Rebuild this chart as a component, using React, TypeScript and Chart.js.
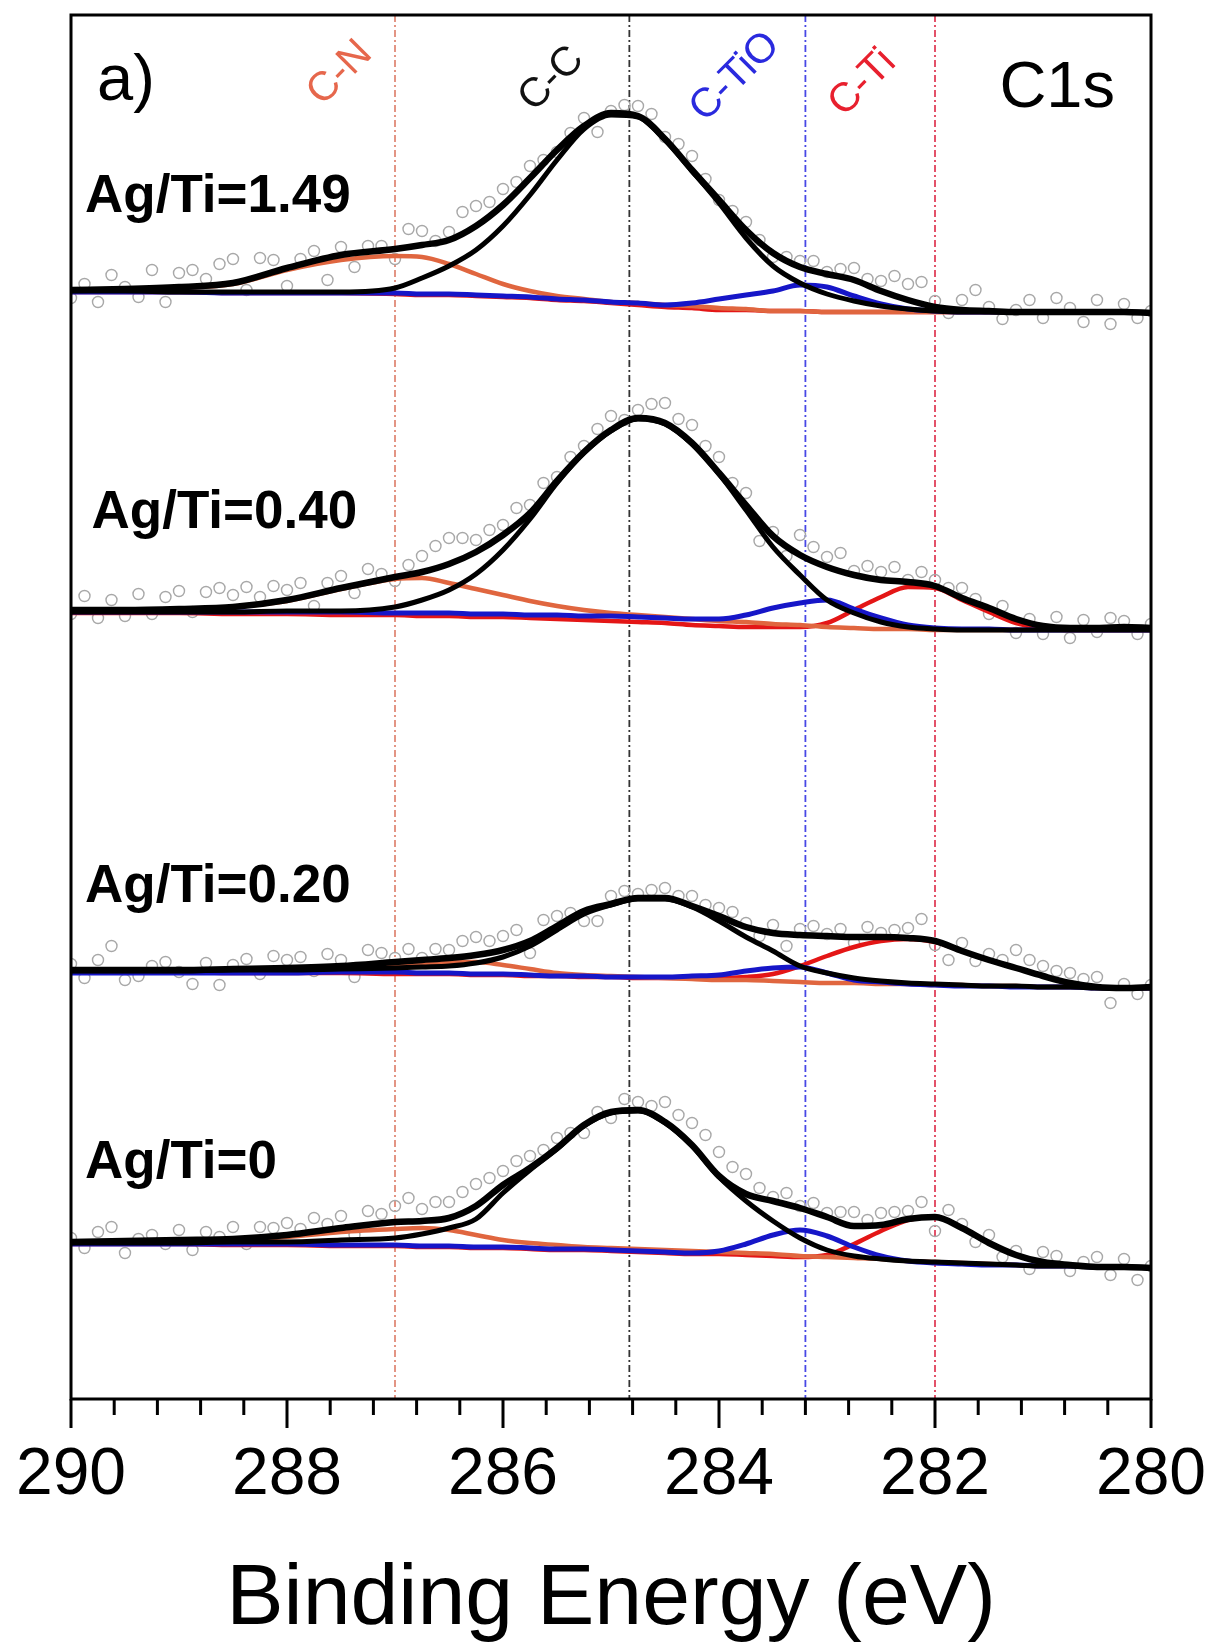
import React, { useEffect, useRef } from 'react';
import { Chart, registerables } from 'chart.js';

Chart.register(...registerables);

const FONT = "'Liberation Sans', Arial, Helvetica, sans-serif";

// Binding energies (eV) at which the fitted curves are sampled
const FIT_E = [290, 289.5, 289, 288.5, 288, 287.5, 287, 286.75, 286.5, 286.25, 286, 285.75, 285.5, 285.25, 285, 284.75, 284.5, 284.25, 284, 283.75, 283.5, 283.25, 283, 282.75, 282.5, 282.25, 282, 281.75, 281.5, 281.25, 281, 280.75, 280.5, 280.25, 280];

// Binding energies (eV) of the measured points
const RAW_E = [290, 289.875, 289.75, 289.625, 289.5, 289.375, 289.25, 289.125, 289, 288.875, 288.75, 288.625, 288.5, 288.375, 288.25, 288.125, 288, 287.875, 287.75, 287.625, 287.5, 287.375, 287.25, 287.125, 287, 286.875, 286.75, 286.625, 286.5, 286.375, 286.25, 286.125, 286, 285.875, 285.75, 285.625, 285.5, 285.375, 285.25, 285.125, 285, 284.875, 284.75, 284.625, 284.5, 284.375, 284.25, 284.125, 284, 283.875, 283.75, 283.625, 283.5, 283.375, 283.25, 283.125, 283, 282.875, 282.75, 282.625, 282.5, 282.375, 282.25, 282.125, 282, 281.875, 281.75, 281.625, 281.5, 281.375, 281.25, 281.125, 281, 280.875, 280.75, 280.625, 280.5, 280.375, 280.25, 280.125, 280];

// ---- Ag/Ti = 1.49 (intensity, a.u., stacked offset) ----
const ENV_149 = [1109, 1110, 1112, 1116, 1131, 1144, 1150, 1154, 1159, 1173, 1194, 1221, 1249, 1273, 1286, 1283, 1260, 1229, 1199, 1169, 1146, 1132, 1125, 1119, 1108, 1099, 1092, 1089, 1088, 1087, 1087, 1087, 1087, 1087, 1086];
const CC_149 = [1108, 1108, 1107, 1107, 1107, 1107, 1111, 1121, 1133, 1149, 1173, 1204, 1239, 1270, 1284, 1282, 1259, 1228, 1196, 1161, 1133, 1116, 1105, 1098, 1093, 1090, 1088, 1087, 1087, 1087, 1087, 1087, 1087, 1087, 1086];
const CN_149 = [1108, 1109, 1111, 1115, 1129, 1139, 1143, 1142, 1135, 1125, 1115, 1108, 1103, 1100, 1097, 1096, 1094, 1093, 1091, 1090, 1088, 1088, 1087, 1087, 1087, 1087, 1087, 1087, 1087, 1087, 1087, 1087, 1087, 1087, 1086];
const TIO_149 = [1107, 1107, 1107, 1106, 1106, 1106, 1106, 1105, 1105, 1104, 1103, 1102, 1100, 1099, 1097, 1096, 1094, 1096, 1100, 1104, 1108, 1114, 1112, 1103, 1095, 1090, 1088, 1087, 1087, 1087, 1087, 1087, 1087, 1087, 1086];
const TI_149 = [1107, 1107, 1107, 1106, 1106, 1106, 1105, 1104, 1104, 1103, 1102, 1101, 1099, 1098, 1096, 1094, 1092, 1091, 1089, 1089, 1088, 1088, 1087, 1087, 1087, 1087, 1087, 1087, 1087, 1087, 1087, 1087, 1087, 1087, 1086];
const RAW_149 = [1101, 1115, 1097, 1124, 1112, 1102, 1129, 1097, 1126, 1129, 1120, 1135, 1140, 1109, 1141, 1139, 1113, 1140, 1148, 1119, 1152, 1132, 1153, 1153, 1140, 1170, 1168, 1158, 1167, 1187, 1193, 1197, 1210, 1217, 1233, 1239, 1247, 1266, 1281, 1267, 1288, 1294, 1293, 1285, 1262, 1255, 1243, 1220, 1199, 1188, 1177, 1159, 1142, 1142, 1138, 1138, 1127, 1130, 1131, 1120, 1118, 1123, 1115, 1117, 1098, 1086, 1099, 1109, 1092, 1080, 1089, 1099, 1081, 1101, 1091, 1077, 1099, 1075, 1095, 1081, 1088];

// ---- Ag/Ti = 0.40 ----
const ENV_040 = [789, 789, 790, 792, 799, 811, 822, 827, 835, 847, 864, 886, 918, 947, 969, 981, 976, 956, 926, 894, 863, 844, 832, 824, 819, 817, 813, 801, 791, 780, 773, 771, 771, 772, 771];
const CC_040 = [787, 787, 787, 787, 788, 788, 792, 799, 809, 825, 849, 880, 916, 946, 968, 980, 975, 955, 925, 889, 852, 824, 799, 786, 777, 772, 770, 769, 769, 769, 769, 769, 769, 769, 769];
const CN_040 = [788, 788, 789, 792, 798, 810, 820, 821, 816, 810, 804, 798, 793, 789, 786, 784, 782, 780, 778, 777, 775, 774, 772, 771, 770, 770, 769, 769, 769, 769, 769, 769, 769, 769, 769];
const TIO_040 = [787, 787, 787, 787, 787, 787, 786, 786, 786, 785, 785, 784, 784, 783, 783, 782, 781, 780, 780, 784, 791, 796, 799, 790, 781, 774, 771, 770, 770, 769, 769, 769, 769, 769, 769];
const TI_040 = [786, 786, 786, 785, 785, 784, 784, 783, 783, 782, 782, 781, 780, 779, 778, 777, 776, 774, 773, 772, 772, 772, 776, 789, 802, 812, 811, 799, 787, 776, 771, 769, 769, 769, 769];
const RAW_040 = [785, 803, 781, 799, 783, 805, 785, 802, 808, 787, 807, 811, 804, 812, 802, 813, 809, 816, 793, 816, 823, 806, 830, 825, 818, 834, 843, 853, 861, 861, 859, 869, 874, 891, 894, 916, 922, 942, 953, 970, 983, 979, 989, 995, 996, 980, 974, 953, 942, 916, 906, 858, 867, 843, 864, 852, 842, 846, 828, 833, 827, 832, 819, 827, 819, 811, 811, 800, 785, 793, 766, 780, 765, 782, 761, 779, 767, 781, 778, 765, 775];

// ---- Ag/Ti = 0.20 ----
const ENV_020 = [429, 429, 429, 430, 431, 433, 437, 439, 441, 444, 449, 458, 473, 488, 495, 501, 501, 493, 483, 472, 466, 464, 463, 462, 462, 461, 458, 448, 439, 431, 423, 416, 412, 411, 412];
const CC_020 = [428, 428, 428, 429, 429, 430, 431, 432, 433, 436, 442, 453, 469, 485, 494, 500, 500, 492, 478, 462, 448, 433, 426, 421, 418, 416, 415, 414, 413, 413, 412, 412, 411, 411, 411];
const CN_020 = [428, 428, 428, 429, 429, 430, 433, 435, 437, 437, 434, 430, 426, 424, 423, 422, 421, 420, 419, 419, 418, 417, 416, 416, 415, 415, 414, 414, 413, 413, 412, 412, 411, 411, 411];
const TIO_020 = [426, 426, 426, 426, 426, 427, 427, 426, 426, 425, 425, 424, 423, 423, 422, 422, 422, 423, 424, 428, 431, 432, 426, 419, 417, 415, 414, 413, 413, 412, 412, 412, 411, 411, 411];
const TI_020 = [427, 427, 427, 426, 426, 426, 425, 425, 425, 424, 424, 423, 423, 422, 422, 421, 421, 421, 421, 422, 425, 433, 443, 452, 458, 460, 457, 448, 439, 431, 423, 416, 412, 411, 411];
const RAW_020 = [435, 421, 439, 453, 419, 423, 433, 437, 427, 415, 436, 414, 434, 440, 425, 443, 439, 442, 428, 445, 439, 422, 449, 446, 441, 450, 441, 450, 449, 458, 462, 458, 463, 469, 446, 479, 483, 486, 478, 478, 503, 508, 505, 509, 511, 503, 503, 494, 491, 487, 476, 463, 474, 453, 470, 473, 465, 470, 456, 472, 466, 469, 471, 480, 454, 439, 456, 438, 445, 439, 449, 439, 433, 428, 426, 420, 422, 396, 415, 405, 414];

// ---- Ag/Ti = 0 ----
const ENV_000 = [157, 158, 159, 160, 164, 171, 177, 178, 181, 193, 214, 231, 251, 274, 287, 289, 277, 254, 223, 205, 198, 191, 182, 173, 174, 180, 182, 171, 156, 144, 137, 134, 132, 132, 131];
const CC_000 = [156, 156, 156, 157, 157, 159, 161, 165, 171, 180, 206, 229, 250, 273, 286, 288, 276, 253, 222, 198, 178, 161, 149, 143, 140, 138, 137, 136, 135, 134, 133, 133, 132, 132, 131];
const CN_000 = [156, 156, 157, 159, 162, 167, 170, 171, 169, 164, 159, 156, 154, 152, 151, 150, 149, 148, 147, 146, 145, 143, 142, 141, 140, 138, 137, 136, 135, 134, 133, 133, 132, 132, 131];
const TIO_000 = [155, 155, 155, 155, 155, 154, 154, 153, 153, 152, 152, 151, 150, 150, 149, 148, 147, 146, 148, 155, 164, 169, 163, 152, 143, 138, 136, 135, 134, 134, 133, 133, 132, 132, 131];
const TI_000 = [155, 155, 155, 154, 154, 153, 153, 152, 152, 151, 151, 150, 149, 149, 148, 147, 146, 145, 145, 144, 143, 142, 144, 155, 168, 179, 182, 171, 156, 144, 137, 134, 132, 132, 131];
const RAW_000 = [161, 151, 167, 172, 146, 160, 164, 155, 169, 149, 167, 162, 172, 155, 172, 171, 176, 170, 181, 175, 183, 164, 188, 185, 193, 201, 190, 197, 197, 207, 215, 221, 228, 238, 243, 249, 261, 266, 266, 287, 281, 300, 297, 293, 297, 284, 276, 264, 247, 232, 225, 211, 202, 206, 193, 196, 186, 187, 187, 179, 186, 187, 188, 197, 168, 189, 175, 157, 164, 142, 148, 130, 147, 143, 128, 137, 142, 124, 140, 119, 133];

// Sample labels and their anchor (energy, intensity)
const SAMPLE_LABELS = ['Ag/Ti=1.49', 'Ag/Ti=0.40', 'Ag/Ti=0.20', 'Ag/Ti=0'];
const SAMPLE_LABEL_E = [289.87, 289.81, 289.87, 289.87];
const SAMPLE_LABEL_I = [1187, 871, 497, 221];

// Component reference positions (eV) and labels
const REF_NAMES = ['C-N', 'C-C', 'C-TiO', 'C-Ti'];
const REF_E = [287.0, 284.83, 283.2, 282.0];
const REF_LABEL_E = [287.51, 285.55, 283.85, 282.67];
const REF_LABEL_I = [1326, 1320, 1322, 1316];
const REF_LINE_COLORS = ['#e08a78', '#333333', '#4848e6', '#e0405a'];
const REF_TEXT_COLORS = ['#e6674c', '#111111', '#2a2ade', '#e8202e'];

const X_TICKS_MAJOR = [280, 282, 284, 286, 288, 290];

export default function App() {
  const ref = useRef<HTMLCanvasElement>(null);

  useEffect(() => {
    const toXY = (xs: number[], ys: number[]) => xs.map((x, i) => ({ x, y: ys[i] }));
    const spectra = [
      { env: ENV_149, cc: CC_149, cn: CN_149, tio: TIO_149, ti: TI_149, raw: RAW_149 },
      { env: ENV_040, cc: CC_040, cn: CN_040, tio: TIO_040, ti: TI_040, raw: RAW_040 },
      { env: ENV_020, cc: CC_020, cn: CN_020, tio: TIO_020, ti: TI_020, raw: RAW_020 },
      { env: ENV_000, cc: CC_000, cn: CN_000, tio: TIO_000, ti: TI_000, raw: RAW_000 },
    ];
    const line = (ys: number[], color: string, width: number, order: number) => ({
      data: toXY(FIT_E, ys),
      borderColor: color,
      borderWidth: width,
      pointRadius: 0,
      fill: false,
      cubicInterpolationMode: 'monotone' as const,
      borderCapStyle: 'round' as const,
      borderJoinStyle: 'round' as const,
      order,
    });
    const datasets: any[] = [];
    spectra.forEach((s) => {
      datasets.push({
        data: toXY(RAW_E, s.raw),
        showLine: false,
        pointRadius: 5.5,
        pointBorderWidth: 1.4,
        pointBorderColor: '#a8a8a8',
        pointBackgroundColor: 'rgba(255,255,255,0)',
        order: 6,
      });
      datasets.push(line(s.ti, '#e41616', 4.5, 5));
      datasets.push(line(s.cn, '#e0663f', 4.5, 4));
      datasets.push(line(s.tio, '#1616c8', 5, 3));
      datasets.push(line(s.cc, '#000000', 5, 2));
      datasets.push(line(s.env, '#000000', 6.5, 1));
    });

    const decor = {
      id: 'decor',
      beforeDatasetsDraw(chart: any) {
        const { ctx, chartArea: a, scales } = chart;
        const x = scales.x;
        ctx.save();
        ctx.beginPath();
        ctx.rect(a.left, a.top, a.right - a.left, a.bottom - a.top);
        ctx.clip();
        REF_E.forEach((e, i) => {
          const px = x.getPixelForValue(e);
          ctx.strokeStyle = REF_LINE_COLORS[i];
          ctx.lineWidth = 1.8;
          ctx.setLineDash([7, 3, 2, 3]);
          ctx.beginPath();
          ctx.moveTo(px, a.top);
          ctx.lineTo(px, a.bottom);
          ctx.stroke();
        });
        ctx.restore();
      },
      afterDatasetsDraw(chart: any) {
        const { ctx, chartArea: a, scales } = chart;
        const x = scales.x;
        const y = scales.y;
        ctx.save();
        // frame
        ctx.strokeStyle = '#000';
        ctx.lineWidth = 3;
        ctx.setLineDash([]);
        ctx.strokeRect(a.left, a.top, a.right - a.left, a.bottom - a.top);
        // ticks (major every 2 eV, minor every 0.4 eV)
        ctx.lineWidth = 3;
        for (let k = 0; k <= 25; k++) {
          const v = 280 + k * 0.4;
          const px = x.getPixelForValue(v);
          const len = k % 5 === 0 ? 29 : 16;
          ctx.beginPath();
          ctx.moveTo(px, a.bottom);
          ctx.lineTo(px, a.bottom + len);
          ctx.stroke();
        }
        // peak labels
        ctx.font = `41px ${FONT}`;
        ctx.textAlign = 'center';
        ctx.textBaseline = 'middle';
        REF_NAMES.forEach((name, i) => {
          ctx.save();
          ctx.translate(x.getPixelForValue(REF_LABEL_E[i]), y.getPixelForValue(REF_LABEL_I[i]));
          ctx.rotate(-Math.PI / 4);
          ctx.fillStyle = REF_TEXT_COLORS[i];
          ctx.fillText(name, 0, 0);
          ctx.restore();
        });
        // sample labels
        ctx.fillStyle = '#000';
        ctx.font = `bold 53px ${FONT}`;
        ctx.textAlign = 'left';
        ctx.textBaseline = 'alphabetic';
        SAMPLE_LABELS.forEach((t, i) => {
          ctx.fillText(t, x.getPixelForValue(SAMPLE_LABEL_E[i]), y.getPixelForValue(SAMPLE_LABEL_I[i]));
        });
        // panel letter and core level
        ctx.font = `65px ${FONT}`;
        ctx.fillText('a)', a.left + 26, a.top + 85);
        ctx.font = `65px ${FONT}`;
        ctx.textAlign = 'right';
        ctx.fillText('C1s', a.right - 36, a.top + 92);
        ctx.restore();
      },
    };

    const chart = new Chart(ref.current as HTMLCanvasElement, {
      type: 'line',
      data: { datasets },
      options: {
        responsive: false,
        animation: false,
        devicePixelRatio: 1,
        events: [],
        layout: { padding: { left: 71, right: 62, top: 15, bottom: 0 } },
        plugins: { legend: { display: false }, tooltip: { enabled: false } },
        scales: {
          x: {
            type: 'linear',
            min: 280,
            max: 290,
            reverse: true,
            afterFit: (scale: any) => {
              scale.height = 249;
            },
            afterBuildTicks: (scale: any) => {
              scale.ticks = X_TICKS_MAJOR.map((v) => ({ value: v }));
            },
            grid: { display: false, drawTicks: false },
            border: { display: false },
            ticks: {
              autoSkip: false,
              maxRotation: 0,
              minRotation: 0,
              padding: 44,
              color: '#000',
              font: { family: FONT, size: 66, lineHeight: 1 },
              callback: (v: any) => String(v),
            },
            title: {
              display: true,
              text: 'Binding Energy (eV)',
              color: '#000',
              font: { family: FONT, size: 86, lineHeight: 1 },
              padding: { top: 0, bottom: 5 },
            },
          },
          y: {
            type: 'linear',
            min: 0,
            max: 1384,
            display: false,
          },
        },
      },
      plugins: [decor],
    } as any);
    return () => chart.destroy();
  }, []);

  return (
    <div style={{ position: 'absolute', left: 0, top: 0, width: 1213, height: 1648, background: '#ffffff' }}>
      <canvas ref={ref} width={1213} height={1648} style={{ display: 'block', width: 1213, height: 1648 }} />
    </div>
  );
}
